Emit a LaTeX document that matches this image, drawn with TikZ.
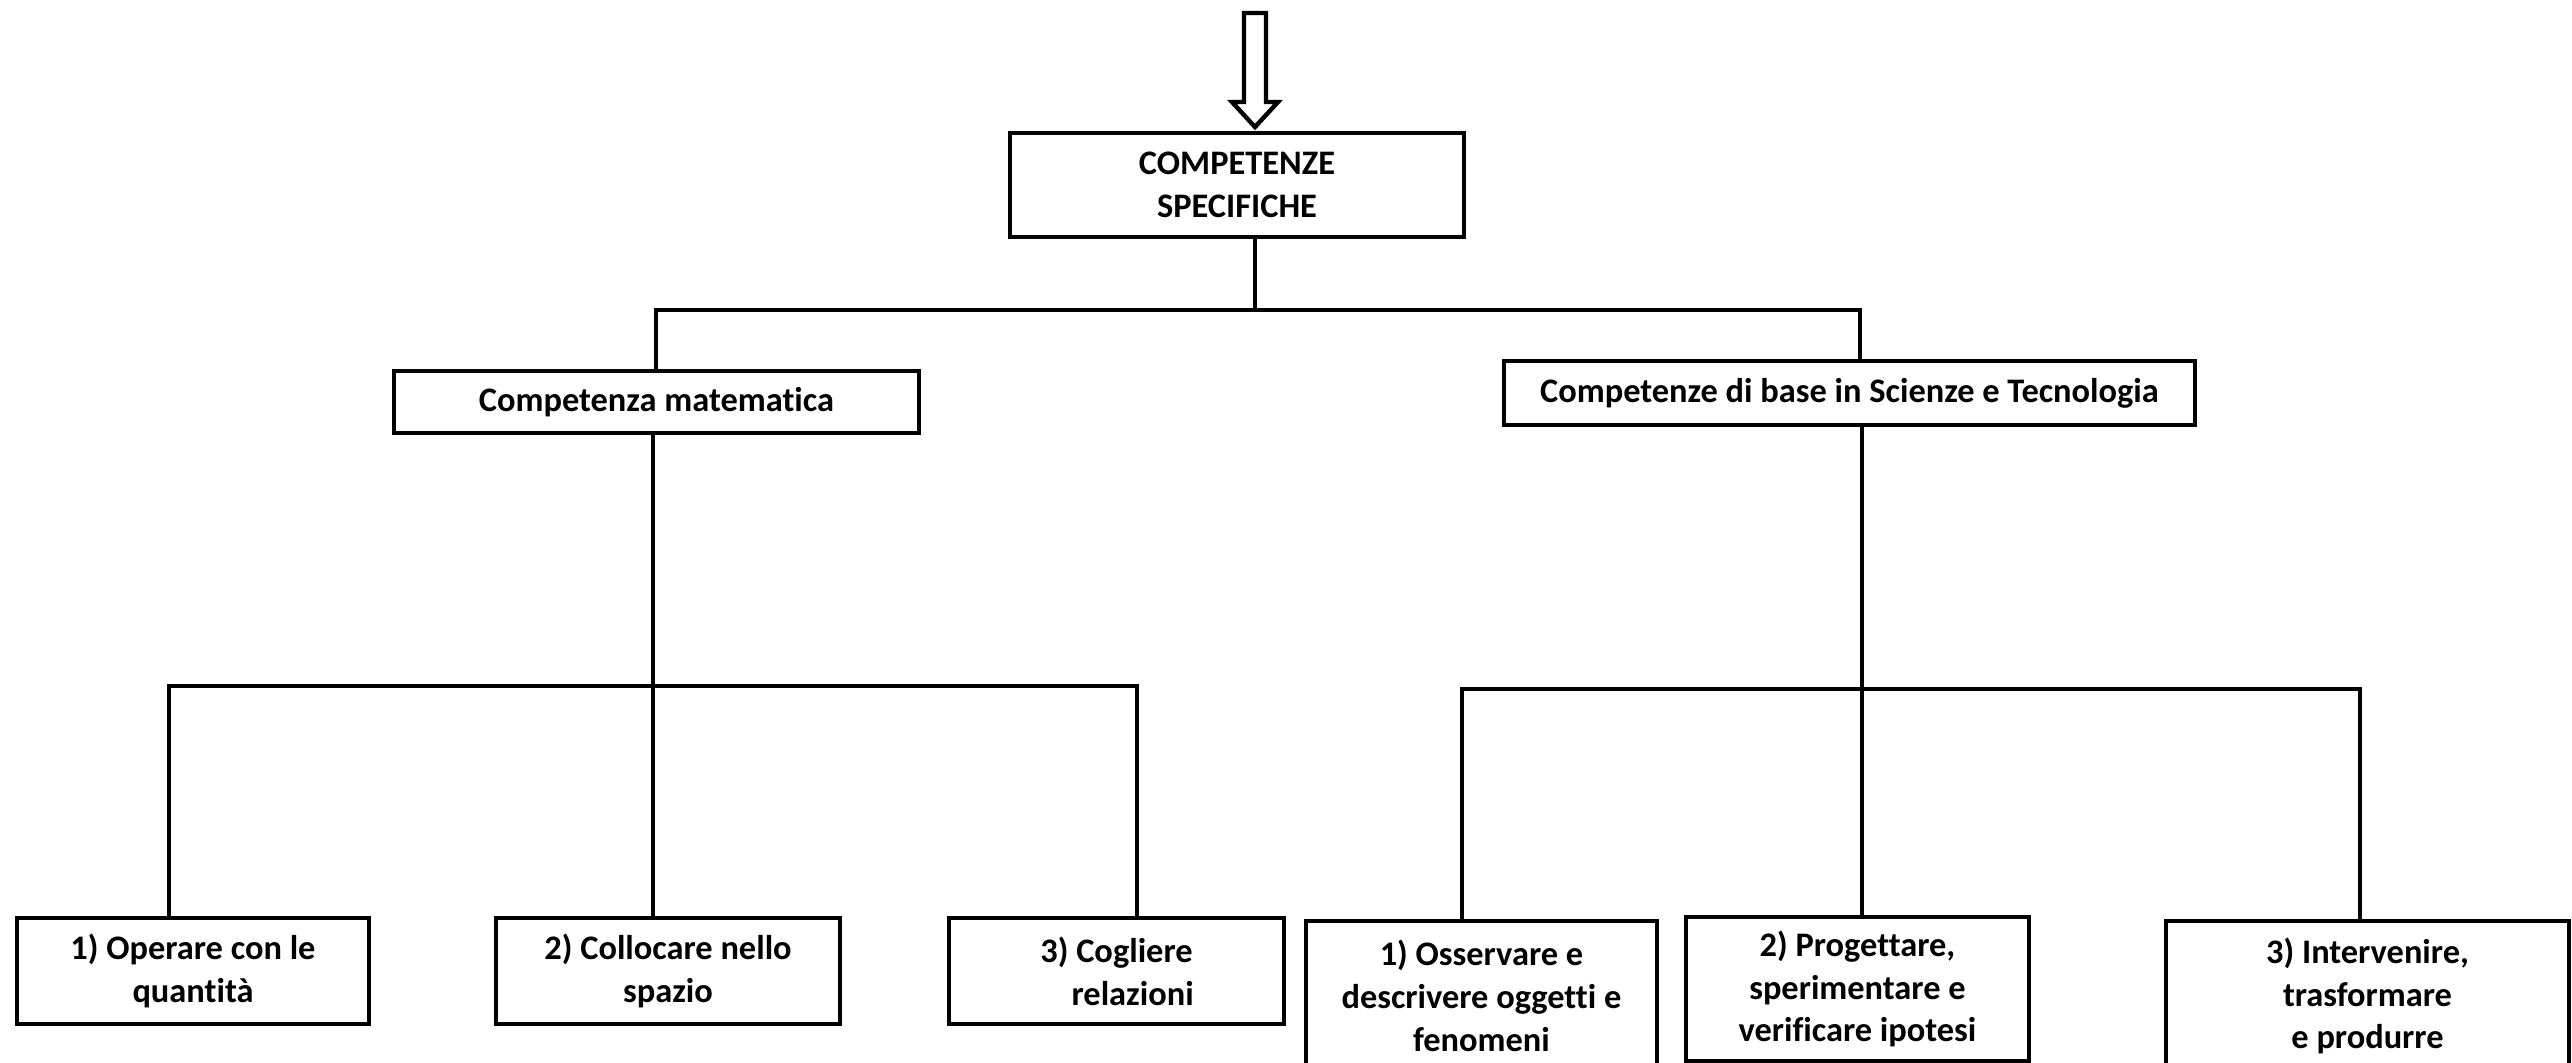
\documentclass[tikz,border=0pt]{standalone}
\usepackage{fontspec}
\setmainfont[Ligatures=NoCommon]{Carlito}
\begin{document}
\begin{tikzpicture}[x=0.5pt,y=-0.5pt,
  every node/.style={font=\fontsize{17.2pt}{21.4pt}\selectfont\bfseries},
  box/.style={draw=black,line width=2.2pt,fill=white,align=center,inner sep=0pt},
  conn/.style={draw=black,line width=2.2pt}]
\clip (0,0) rectangle (2572,1063);
\fill[white] (0,0) rectangle (2572,1063);
% nodes
\node[box,minimum width=227pt,minimum height=52pt] (top) at (1237,185) {COMPETENZE\\SPECIFICHE};
\node[box,minimum width=262.5pt,minimum height=31pt] (lm) at (656.5,402) {Competenza matematica};
\node[box,minimum width=345.5pt,minimum height=32pt] (rs) at (1849.5,393) {Competenze di base in Scienze e Tecnologia};
\node[box,minimum width=176pt,minimum height=53pt] (l1) at (193,971) {1) Operare con le\\quantità};
\node[box,minimum width=172pt,minimum height=53pt] (l2) at (668,971) {2) Collocare nello\\spazio};
\node[box,minimum width=167.5pt,minimum height=53pt] (l3) at (1116.5,971) {3) Cogliere\\\hspace*{0.94em}relazioni};
\node[box,minimum width=175.5pt,minimum height=75pt] (r1) at (1481.5,996) {1) Osservare e\\descrivere oggetti e\\fenomeni};
\node[box,minimum width=171.5pt,minimum height=72pt] (r2) at (1857.5,989) {2) Progettare,\\sperimentare e\\verificare ipotesi};
\node[box,minimum width=201.5pt,minimum height=75pt] (r3) at (2367.5,996) {3) Intervenire,\\trasformare\\e produrre};
% arrow into top box
\coordinate (atip) at (1255,127);
\draw[line width=2.2pt,line join=miter] (1244,13) -- (1266,13) -- (1266,102) -- (1278,102) -- (atip) -- (1232,102) -- (1244,102) -- cycle;
% connectors level 1
\coordinate (b0) at (1255,310);
\coordinate (bL) at (656,310);
\coordinate (bR) at (1860,310);
\draw[conn] (top.south -| b0) -- (b0);
\draw[conn] (lm.north -| bL) -- (bL) -- (bR) -- (rs.north -| bR);
% left branch
\coordinate (c0) at (653,686);
\coordinate (c1) at (169,686);
\coordinate (c3) at (1137,686);
\draw[conn] (lm.south -| c0) -- (c0) -- (l2.north -| c0);
\draw[conn] (l1.north -| c1) -- (c1) -- (c3) -- (l3.north -| c3);
% right branch
\coordinate (e0) at (1862,689);
\coordinate (e1) at (1462,689);
\coordinate (e3) at (2360,689);
\draw[conn] (rs.south -| e0) -- (e0) -- (r2.north -| e0);
\draw[conn] (r1.north -| e1) -- (e1) -- (e3) -- (r3.north -| e3);
\end{tikzpicture}
\end{document}
